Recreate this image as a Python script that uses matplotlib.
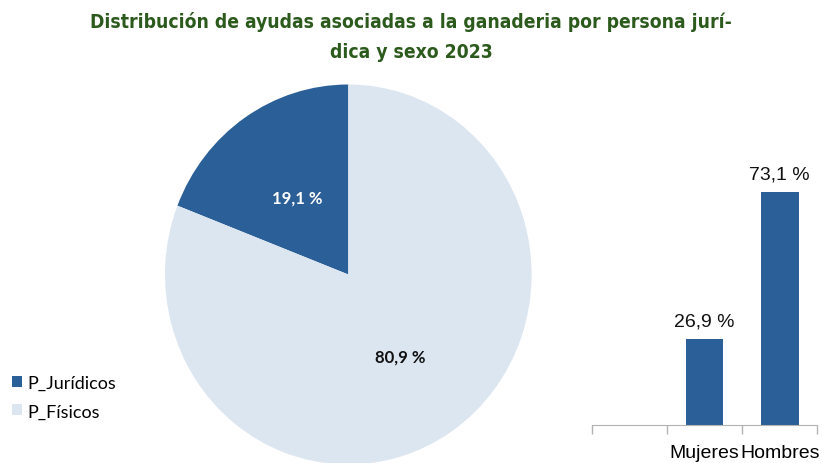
import matplotlib.pyplot as plt
import numpy as np

# data
pie_labels = ["P_Jurídicos", "P_Físicos"]
pie_values = [19.1, 80.9]
bar_categories = ["", "Mujeres", "Hombres"]
bar_values = [None, 26.9, 73.1]

blue = "#2B5F97"
light = "#DCE6F0"
green = "#2C5A1C"

W, H = 822, 464
fig = plt.figure(figsize=(W / 100, H / 100), dpi=100)

def box(x0, y0, x1, y1):
    # pixel box (top-left origin) -> figure fraction
    return [x0 / W, (H - y1) / H, (x1 - x0) / W, (y1 - y0) / H]

# title
title_kw = dict(ha="center", va="center", fontsize=13.9, fontweight="bold", color=green,
                family="DejaVu Sans", fontstretch="condensed")
fig.text(0.5, 1 - 22 / H, "Distribución de ayudas asociadas a la ganaderia por persona jurí-", **title_kw)
fig.text(0.5, 1 - 53 / H, "dica y sexo 2023", **title_kw)

# pie (slightly taller than wide, like the original)
ax = fig.add_axes(box(165, 85.5, 531.6, 465.5))
wedges, _ = ax.pie(pie_values, colors=[blue, light], startangle=90, counterclock=True,
                   radius=1, wedgeprops=dict(linewidth=0))
ax.set_aspect("auto")
ax.set_xlim(-1, 1)
ax.set_ylim(-1, 1)

ax.text(-0.28, 0.405, f"{pie_values[0]:.1f} %".replace(".", ","), ha="center", va="center",
        color="white", fontsize=12, fontweight="bold", family="Lato")
ax.text(0.282, -0.43, f"{pie_values[1]:.1f} %".replace(".", ","), ha="center", va="center",
        color="#111111", fontsize=12, fontweight="bold", family="Lato")

fig.legend(wedges, pie_labels, loc="center left", bbox_to_anchor=(-4 / W, 1 - 398 / H),
           frameon=False, prop=dict(family="Lato", size=13),
           handlelength=0.55, handleheight=0.55, handletextpad=0.3, labelspacing=0.7)

# bars
bx = fig.add_axes(box(591.7, 426 - 255.3, 817.3, 426))
xs = np.arange(len(bar_categories))
for x, v in zip(xs, bar_values):
    if v is None:
        continue
    bx.bar(x, v, width=0.5, color=blue)
    bx.text(x, v + 3, f"{v:.1f} %".replace(".", ","), ha="center", va="bottom",
            fontsize=14, family="Liberation Sans", color="#111111")
bx.set_xlim(-0.5, len(bar_categories) - 0.5)
bx.set_ylim(0, 80)
for s in ["left", "right", "top"]:
    bx.spines[s].set_visible(False)
bx.spines["bottom"].set_color("#b3b3b3")
bx.set_yticks([])
bx.set_xticks(np.arange(len(bar_categories) + 1) - 0.5)
bx.set_xticklabels([])
bx.tick_params(axis="x", which="major", length=6.5, color="#b3b3b3", width=1)
bx.set_xticks(xs, minor=True)
bx.set_xticklabels(bar_categories, minor=True, fontsize=14, family="Liberation Sans")
bx.tick_params(axis="x", which="minor", length=0, pad=14)

fig.savefig("out.png", dpi=100)
